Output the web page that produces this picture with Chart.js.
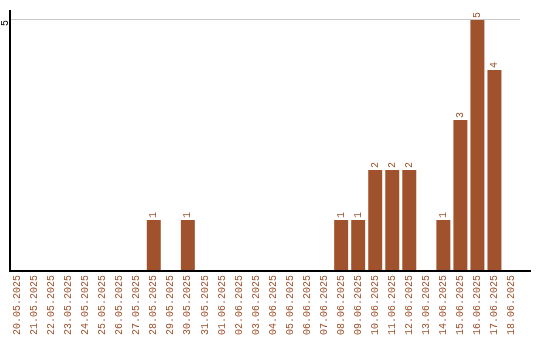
<!DOCTYPE html>
<html>
<head>
<meta charset="utf-8">
<script src="https://cdn.jsdelivr.net/npm/chart.js@4"></script>
<style>
  body { margin: 0; background: #fff; }
  #wrap { width: 540px; height: 340px; }
</style>
</head>
<body>
<div id="wrap"><canvas id="chart" width="540" height="340"></canvas></div>
<script>
// dias e contagens
const days = ['20.05.2025','21.05.2025','22.05.2025','23.05.2025','24.05.2025','25.05.2025',
  '26.05.2025','27.05.2025','28.05.2025','29.05.2025','30.05.2025','31.05.2025','01.06.2025',
  '02.06.2025','03.06.2025','04.06.2025','05.06.2025','06.06.2025','07.06.2025','08.06.2025',
  '09.06.2025','10.06.2025','11.06.2025','12.06.2025','13.06.2025','14.06.2025','15.06.2025',
  '16.06.2025','17.06.2025','18.06.2025'];
const counts = [0,0,0,0,0,0,0,0,1,0,1,0,0,0,0,0,0,0,0,1,1,2,2,2,0,1,3,5,4,0];
const yTicks = [5];

const brown = '#a0522d';
const mono = 'Liberation Mono';

// valores verticais em cima das barras, rótulo do eixo y e linhas dos eixos
const extras = {
    id: 'extras',
    afterDatasetsDraw(chart) {
        const ctx = chart.ctx;
        const meta = chart.getDatasetMeta(0);
        const a = chart.chartArea;
        ctx.save();
        ctx.font = '10px ' + mono;
        ctx.fillStyle = brown;
        ctx.textAlign = 'left';
        ctx.textBaseline = 'middle';
        meta.data.forEach((bar, i) => {
            if (!counts[i]) return;
            ctx.save();
            ctx.translate(bar.x, bar.y - 2);
            ctx.rotate(-Math.PI / 2);
            ctx.fillText(String(counts[i]), 0, 0);
            ctx.restore();
        });
        // rótulo "5" girado
        const y = chart.scales.y;
        ctx.fillStyle = '#000';
        ctx.textAlign = 'center';
        yTicks.forEach(v => {
            ctx.save();
            ctx.translate(5, y.getPixelForValue(v) + 3);
            ctx.rotate(-Math.PI / 2);
            ctx.fillText(String(v), 0, 0);
            ctx.restore();
        });
        // eixos
        ctx.strokeStyle = '#000';
        ctx.lineWidth = 2;
        ctx.beginPath();
        ctx.moveTo(a.left + 1, a.top);
        ctx.lineTo(a.left + 1, a.bottom + 1);
        ctx.lineTo(a.right + 11, a.bottom + 1);
        ctx.stroke();
        ctx.restore();
    }
};

new Chart(document.getElementById('chart').getContext('2d'), {
    type: 'bar',
    data: {
        labels: days,
        datasets: [{
            data: counts,
            backgroundColor: brown,
            borderWidth: 0,
            barPercentage: 0.82,
            categoryPercentage: 1
        }]
    },
    options: {
        responsive: false,
        animation: false,
        layout: { padding: { top: 10, right: 20, left: 0, bottom: 0 } },
        plugins: { legend: { display: false }, tooltip: { enabled: false } },
        scales: {
            x: {
                grid: { display: false, drawTicks: false },
                border: { display: false },
                ticks: {
                    autoSkip: false,
                    minRotation: 90,
                    maxRotation: 90,
                    padding: 5,
                    color: brown,
                    font: { size: 10, family: mono }
                }
            },
            y: {
                min: 0,
                max: 5.2,
                afterBuildTicks: s => { s.ticks = yTicks.map(v => ({ value: v })); },
                afterFit: s => { s.width = 9; },
                grid: { color: '#c8c8c8', drawTicks: false },
                border: { display: false },
                ticks: { display: false }
            }
        }
    },
    plugins: [extras]
});
</script>
</body>
</html>
